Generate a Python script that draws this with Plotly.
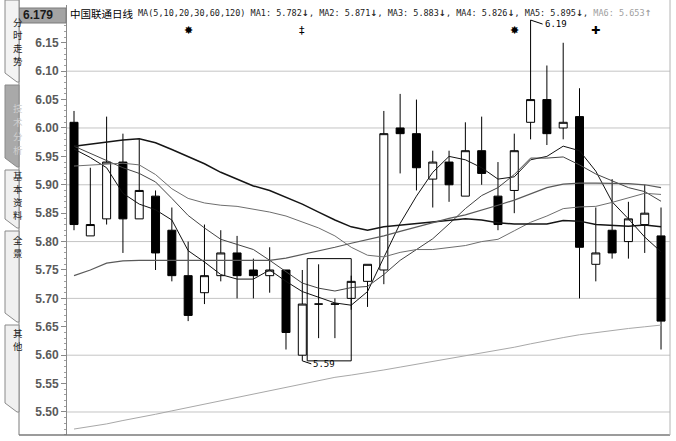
import plotly.graph_objects as go

# ---- data (daily candles, 中国联通) ----
DAYS = list(range(37))

OPEN = [6.01, 5.81, 5.84, 5.94, 5.84, 5.88, 5.82, 5.74, 5.71, 5.74, 5.78, 5.75, 5.74,
        5.75, 5.60, 5.69, 5.69, 5.70, 5.73, 5.75, 6.00, 5.99, 5.91, 5.94, 5.88, 5.96,
        5.88, 5.89, 6.01, 6.05, 6.00, 6.02, 5.76, 5.82, 5.80, 5.83, 5.81]
HIGH = [6.03, 5.93, 6.02, 5.99, 5.98, 5.89, 5.86, 5.80, 5.83, 5.82, 5.81, 5.77, 5.79,
        5.75, 5.75, 5.76, 5.70, 5.74, 5.76, 6.03, 6.06, 6.05, 5.96, 5.96, 6.01, 6.02,
        5.94, 5.99, 6.19, 6.11, 6.15, 6.07, 5.86, 5.91, 5.87, 5.90, 5.86]
LOW = [5.82, 5.81, 5.83, 5.78, 5.84, 5.75, 5.73, 5.66, 5.69, 5.73, 5.70, 5.70, 5.71,
       5.61, 5.59, 5.63, 5.63, 5.68, 5.685, 5.725, 5.92, 5.89, 5.86, 5.87, 5.88, 5.90,
       5.82, 5.85, 5.98, 5.97, 5.98, 5.70, 5.73, 5.77, 5.77, 5.78, 5.61]
CLOSE = [5.83, 5.83, 5.94, 5.84, 5.89, 5.78, 5.74, 5.67, 5.74, 5.78, 5.74, 5.74, 5.75,
         5.64, 5.69, 5.69, 5.69, 5.73, 5.76, 5.99, 5.99, 5.93, 5.94, 5.90, 5.96, 5.92,
         5.83, 5.96, 6.05, 5.99, 6.01, 5.79, 5.78, 5.78, 5.84, 5.85, 5.66]

MA5 = [5.963, 5.948, 5.93, 5.885, 5.866, 5.856, 5.838, 5.784, 5.764, 5.742, 5.734, 5.734,
       5.75, 5.73, 5.712, 5.702, 5.692, 5.688, 5.712, 5.772, 5.832, 5.88, 5.922, 5.95,
       5.944, 5.93, 5.91, 5.914, 5.944, 5.95, 5.968, 5.96, 5.924, 5.87, 5.84, 5.808, 5.782]
MA10 = [5.968, 5.955, 5.942, 5.93, 5.92, 5.905, 5.876, 5.846, 5.824, 5.804, 5.795, 5.786,
        5.767, 5.747, 5.727, 5.718, 5.713, 5.719, 5.721, 5.742, 5.767, 5.786, 5.805, 5.831,
        5.858, 5.881, 5.895, 5.918, 5.947, 5.947, 5.949, 5.935, 5.919, 5.907, 5.895, 5.888, 5.871]
MA20 = [5.933, 5.935, 5.937, 5.938, 5.935, 5.918, 5.893, 5.876, 5.868, 5.864, 5.862, 5.857,
        5.852, 5.845, 5.835, 5.824, 5.81, 5.79, 5.776, 5.773, 5.781, 5.786, 5.786, 5.789,
        5.793, 5.80, 5.804, 5.819, 5.834, 5.845, 5.858, 5.861, 5.862, 5.869, 5.877, 5.885, 5.883]
MA30 = [5.968, 5.972, 5.976, 5.979, 5.981, 5.974, 5.962, 5.95, 5.937, 5.922, 5.91, 5.898,
        5.89, 5.878, 5.866, 5.852, 5.838, 5.826, 5.82, 5.826, 5.829, 5.832, 5.835, 5.838,
        5.84, 5.838, 5.833, 5.831, 5.831, 5.831, 5.837, 5.836, 5.83, 5.828, 5.827, 5.829, 5.826]
MA60 = [5.74, 5.75, 5.762, 5.766, 5.767, 5.767, 5.767, 5.767, 5.767, 5.767, 5.767, 5.767,
        5.767, 5.771, 5.777, 5.783, 5.79, 5.797, 5.803, 5.81, 5.818, 5.826, 5.834, 5.841,
        5.847, 5.855, 5.864, 5.873, 5.884, 5.895, 5.901, 5.903, 5.903, 5.903, 5.902, 5.90, 5.895]
MA120 = [5.47, 5.474, 5.479, 5.485, 5.49, 5.496, 5.502, 5.508, 5.514, 5.519, 5.525, 5.532,
         5.538, 5.544, 5.549, 5.555, 5.561, 5.565, 5.569, 5.574, 5.579, 5.584, 5.589, 5.594,
         5.599, 5.603, 5.608, 5.614, 5.62, 5.626, 5.631, 5.636, 5.64, 5.644, 5.647, 5.65, 5.653]

MA_PERIODS = [5, 10, 20, 30, 60, 120]
MA_LAST = [5.782, 5.871, 5.883, 5.826, 5.895, 5.653]
MA_TREND = ["↓", "↓", "↓", "↓", "↓", "↑"]

Y_TICKS = [5.50, 5.55, 5.60, 5.65, 5.70, 5.75, 5.80, 5.85, 5.90, 5.95, 6.00, 6.05, 6.10, 6.15]
GRID_LEVELS = [5.5, 5.6, 5.7, 5.8, 5.9, 6.0, 6.1]
CURRENT_PRICE = "6.179"

# event markers above the candles: (day index, glyph)
EVENTS = [(7, "✸"), (14, "‡"), (27, "✸"), (32, "✚")]
# highlighted box drawn round the two doji days
BOX = dict(x0=14.3, x1=17.0, y0=5.59, y1=5.77)

TABS = ["分时走势", "技术分析", "基本资料", "全景", "其他"]

# ---- layout geometry (pixels in the 676x441 page) ----
W, H = 676, 441
PL, PR, PT, PB = 67, 670, 5, 435


def px(x):
    return (x - PL) / (PR - PL)


def py(y):
    return (PB - y) / (PB - PT)


fig = go.Figure()

fig.add_trace(go.Candlestick(
    x=DAYS, open=OPEN, high=HIGH, low=LOW, close=CLOSE,
    increasing=dict(line=dict(color="#000000", width=1), fillcolor="#ffffff"),
    decreasing=dict(line=dict(color="#000000", width=1), fillcolor="#000000"),
    whiskerwidth=0, hoverinfo="skip", showlegend=False,
))

ma_styles = [
    (MA5, "#111111", 1.0),
    (MA10, "#444444", 1.0),
    (MA20, "#6e6e6e", 1.0),
    (MA30, "#151515", 1.5),
    (MA60, "#5a5a5a", 1.2),
    (MA120, "#a8a8a8", 1.0),
]
for vals, color, width in ma_styles:
    fig.add_trace(go.Scatter(
        x=DAYS, y=vals, mode="lines", line=dict(color=color, width=width),
        hoverinfo="skip", showlegend=False,
    ))

for lvl in GRID_LEVELS:
    fig.add_hline(y=lvl, line_color="#c4c4c4", line_width=1, layer="below")

fig.add_shape(type="rect", xref="x", yref="y", line=dict(color="#000000", width=1),
              fillcolor="rgba(0,0,0,0)", **BOX)

# high / low labels
hi = HIGH.index(max(HIGH))
lo = LOW.index(min(LOW))
fig.add_annotation(x=hi, y=HIGH[hi], text=f"{HIGH[hi]:.2f}", showarrow=True,
                   arrowhead=0, arrowwidth=1, arrowcolor="#000", ax=12, ay=4,
                   xanchor="left", yanchor="middle",
                   font=dict(family="DejaVu Sans Mono", size=9, color="#000"))
fig.add_annotation(x=lo, y=LOW[lo], text=f"{LOW[lo]:.2f}", showarrow=True,
                   arrowhead=0, arrowwidth=1, arrowcolor="#000", ax=9, ay=3,
                   xanchor="left", yanchor="middle",
                   font=dict(family="DejaVu Sans Mono", size=9, color="#000"))

for day, glyph in EVENTS:
    fig.add_annotation(x=day, y=py(22), xref="x", yref="paper", text=glyph,
                       showarrow=False, font=dict(family="DejaVu Sans", size=11, color="#000"))

# header line
fig.add_annotation(x=px(68), y=py(13), xref="paper", yref="paper", text="中国联通日线",
                   showarrow=False, xanchor="left", yanchor="middle",
                   font=dict(family="Noto Sans CJK SC", size=10.5, color="#000"))
parts = ["MA(" + ",".join(str(p) for p in MA_PERIODS) + ")"]
for i, (v, t) in enumerate(zip(MA_LAST, MA_TREND)):
    arrow = f"<span style='font-family:DejaVu Sans;font-weight:bold'>{t}</span>"
    seg = f"MA{i + 1}: {v:.3f}{arrow}"
    if i < len(MA_LAST) - 1:
        seg += ","
    else:
        seg = f"<span style='color:#a0a0a0'>{seg}</span>"
    parts.append(seg)
fig.add_annotation(x=px(136), y=py(13), xref="paper", yref="paper", text=" ".join(parts),
                   showarrow=False, xanchor="left", yanchor="middle",
                   font=dict(family="DejaVu Sans Mono", size=8.5, color="#222"))

# current price box at top of y axis
fig.add_shape(type="rect", xref="paper", yref="paper", x0=px(19), x1=px(66), y0=py(23), y1=py(8),
              fillcolor="#a4a4a4", line=dict(color="#7a7a7a", width=1))
fig.add_annotation(x=px(21), y=py(15.5), xref="paper", yref="paper", text=CURRENT_PRICE,
                   showarrow=False, xanchor="left", yanchor="middle",
                   font=dict(family="Liberation Sans", size=12, color="#1a1a1a", weight="bold"))

# frame lines
fig.add_shape(type="line", xref="paper", yref="paper", x0=px(19), x1=px(19), y0=py(PB), y1=py(0),
              line=dict(color="#7a7a7a", width=1))
fig.add_shape(type="line", xref="paper", yref="paper", x0=px(19), x1=1, y0=0, y1=0,
              line=dict(color="#7a7a7a", width=1.5))
fig.add_shape(type="line", xref="paper", yref="paper", x0=1, x1=1, y0=0, y1=py(0),
              line=dict(color="#b4b4b4", width=1))

# left side tabs, characters stacked one per line
tab_spans = [(0, 82), (85, 167), (170, 228), (231, 322), (325, 412)]
tab_fills = ["#f3f3f3", "#a9a9a9", "#f0f0f0", "#f0f0f0", "#f0f0f0"]
tab_text = ["#222", "#cfcfcf", "#222", "#222", "#222"]
tab_first = [14, 100, 176, 240, 341]
tab_step = [13, 14, 13, 13, 13]
for name, (t0, t1), fill, tc, y0, step in zip(TABS, tab_spans, tab_fills, tab_text,
                                              tab_first, tab_step):
    fig.add_shape(type="path", xref="paper", yref="paper",
                  path=(f"M {px(5)},{py(t0)} L {px(19)},{py(t0)} L {px(19)},{py(t1)} "
                        f"L {px(17)},{py(t1)} L {px(5)},{py(t1 - 9)} Z"),
                  fillcolor=fill, line=dict(color="#8a8a8a", width=1))
    for k, ch in enumerate(name):
        fig.add_annotation(x=px(12), y=py(y0 + k * step), xref="paper", yref="paper",
                           text=ch, showarrow=False, borderpad=0,
                           font=dict(family="Noto Sans CJK SC", size=9.5, color=tc))

fig.update_layout(
    width=W, height=H,
    margin=dict(l=PL, r=W - PR, t=PT, b=H - PB, autoexpand=False),
    paper_bgcolor="#ffffff", plot_bgcolor="#ffffff",
    showlegend=False,
    xaxis=dict(range=[-0.43, 36.55], showgrid=False, zeroline=False, showticklabels=False,
               ticks="", rangeslider=dict(visible=False), fixedrange=True, automargin=False),
    yaxis=dict(range=[5.4595, 6.2165], tickvals=Y_TICKS, ticktext=[f"{v:.2f}" for v in Y_TICKS],
               showgrid=False, zeroline=False, showline=True, linecolor="#8a8a8a", linewidth=1,
               ticks="outside", ticklen=5, tickcolor="#8a8a8a", automargin=False,
               minor=dict(tickmode="linear", tick0=5.46, dtick=0.01, ticks="outside",
                          ticklen=2, tickcolor="#a0a0a0", showgrid=False),
               tickfont=dict(family="Liberation Sans", size=12, color="#5a5a5a", weight="bold"),
               fixedrange=True),
)

# the page body has a default 8px margin; drop it so the figure sits at the window corner
fig.write_html("out.html", config={"displayModeBar": False},
               post_script="document.body.style.margin='0';")
